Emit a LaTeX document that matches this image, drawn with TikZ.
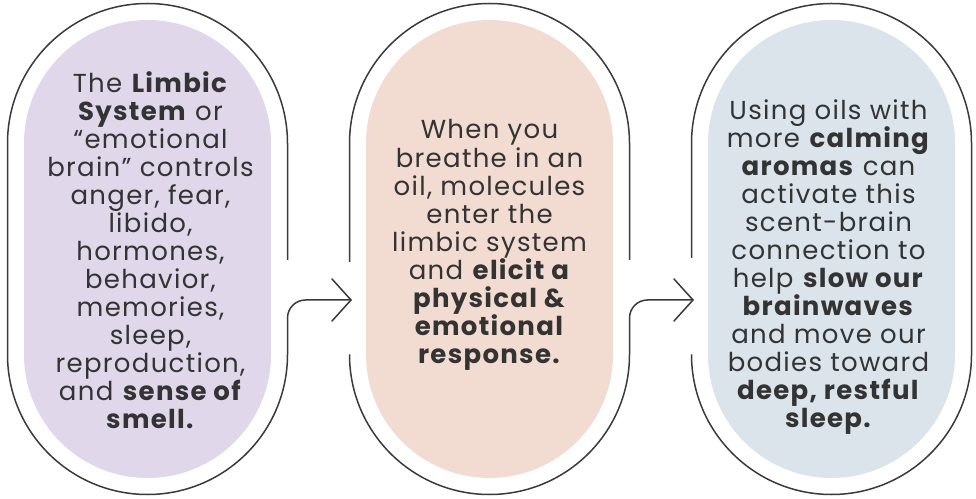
\documentclass[tikz,border=0pt]{standalone}
\usepackage{fontspec}
\setmainfont{Poppins}[LetterSpace=5]
\usetikzlibrary{calc}
\definecolor{lav}{HTML}{E0D7EA}
\definecolor{peach}{HTML}{F2DCD2}
\definecolor{bluegray}{HTML}{DBE4EB}
\definecolor{ink}{HTML}{333333}
\definecolor{edge}{HTML}{3A3A3A}
\begin{document}
\begin{tikzpicture}[x=1pt,y=1pt,
  outline/.style={draw=edge, line width=1.5pt},
  txt/.style={text=ink, align=center, font=\fontsize{26}{28}\selectfont, inner sep=0pt, anchor=base},
  chevron/.style={draw=edge, line width=1.5pt, line cap=round, line join=miter}]
\useasboundingbox (0,0) rectangle (976,498);
\coordinate (c1) at (147.5,249);
\coordinate (c2) at (489.5,249);
\coordinate (c3) at (831.5,249);
% filled pills
\foreach \c/\col in {c1/lav, c2/peach, c3/bluegray}{
  \fill[\col] ($(\c)+(-123.5,-105.5)$) -- ($(\c)+(-123.5,105.5)$) arc[start angle=180,end angle=0,radius=123.5]
    -- ($(\c)+(123.5,-105.5)$) arc[start angle=0,end angle=-180,radius=123.5] -- cycle;
}
% arrow tips
\coordinate (tip12) at ($(c1)+(203.5,-51)$);
\coordinate (tip23) at ($(c2)+(203.5,-51)$);
% outline 1
\draw[outline] ($(c1)+(140,-11)$) -- ($(c1)+(140,105.5)$) arc[start angle=0,end angle=180,radius=140]
  -- ($(c1)+(-140,-105.5)$) arc[start angle=180,end angle=360,radius=140]
  -- ($(c1)+(140,-69)$) arc[start angle=180,end angle=90,radius=18] -- (tip12);
\draw[chevron] ($(tip12)+(-19,21)$) -- (tip12) -- ($(tip12)+(-19,-21)$);
% outline 2
\draw[outline] ($(c2)+(-140,-13)$) -- ($(c2)+(-140,105.5)$) arc[start angle=180,end angle=0,radius=140]
  -- ($(c2)+(140,-11)$);
\draw[outline] ($(c2)+(-140,-107)$) -- ($(c2)+(-140,-105.5)$) arc[start angle=180,end angle=360,radius=140]
  -- ($(c2)+(140,-69)$) arc[start angle=180,end angle=90,radius=18] -- (tip23);
\draw[chevron] ($(tip23)+(-19,21)$) -- (tip23) -- ($(tip23)+(-19,-21)$);
% outline 3
\draw[outline] ($(c3)+(-140,-9)$) -- ($(c3)+(-140,105.5)$) arc[start angle=180,end angle=0,radius=140]
  -- ($(c3)+(140,-105.5)$) arc[start angle=0,end angle=-180,radius=140] -- ($(c3)+(-140,-108)$);
% texts (anchor base = last line)
\node[txt] (t1) at ($(c1)+(3,-179)$) {The \textbf{Limbic}\\ \textbf{System} or\\ “emotional\\ brain” controls\\ anger, fear,\\ libido,\\ hormones,\\ behavior,\\ memories,\\ sleep,\\ reproduction,\\ and \textbf{sense of}\\ \textbf{smell.}};
\node[txt] (t2) at ($(c2)+(0,-114)$) {When you\\ breathe in an\\ oil, molecules\\ enter the\\ limbic system\\ and \textbf{elicit a}\\ \textbf{physical \&}\\ \textbf{emotional}\\ \textbf{response.}};
\node[txt] (t3) at ($(c3)+(-3,-178)$) {Using oils with\\ more \textbf{calming}\\ \textbf{aromas} can\\ activate this\\ scent-brain\\ connection to\\ help \textbf{slow our}\\ \textbf{brainwaves}\\ and move our\\ bodies toward\\ \textbf{deep, restful}\\ \textbf{sleep.}};
\end{tikzpicture}
\end{document}
